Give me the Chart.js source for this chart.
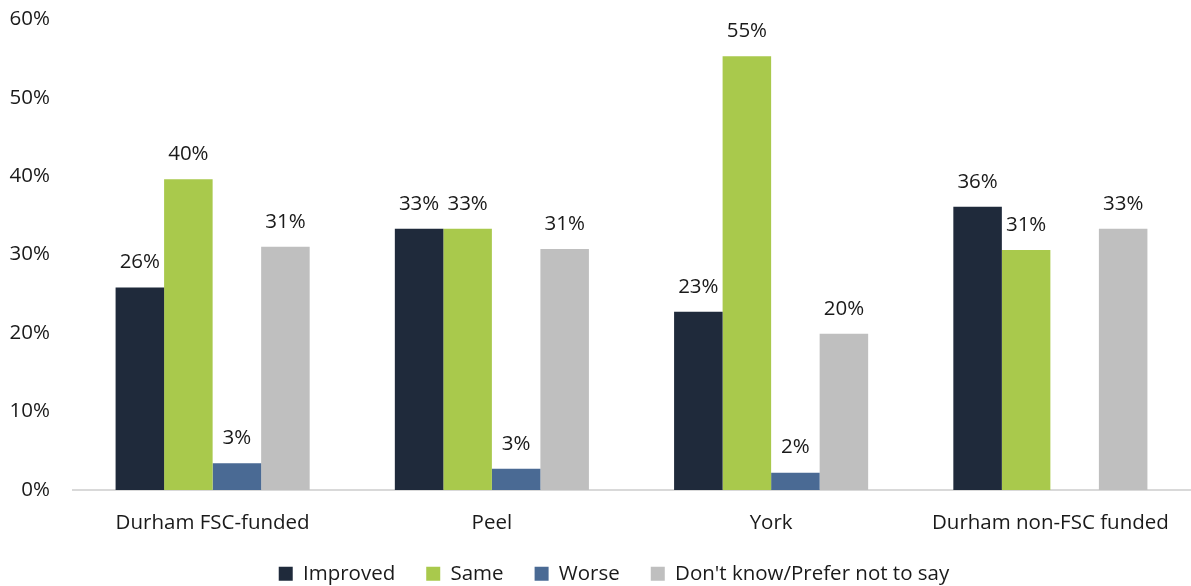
<!DOCTYPE html>
<html>
<head>
<meta charset="utf-8">
<script src="https://cdn.jsdelivr.net/npm/chart.js@4.4.1/dist/chart.umd.min.js"></script>
<style>
  html, body { margin: 0; padding: 0; background: #fff; overflow: hidden; }
  #frame { width: 1191px; height: 586px; position: relative; overflow: hidden; }
  #wrap { width: 1191px; height: 610px; position: absolute; left: 0; top: -16px; }
</style>
</head>
<body>
<div id="frame"><div id="wrap"><canvas id="chart"></canvas></div></div>
<script>
  // --- data ---
  const regions = ["Durham FSC-funded", "Peel", "York", "Durham non-FSC funded"];
  const improved = [25.8, 33.3, 22.7, 36.1];
  const same = [39.6, 33.3, 55.3, 30.6];
  const worse = [3.4, 2.7, 2.2, null];
  const dontKnow = [31.0, 30.7, 19.9, 33.3];
  const yTicks = [0, 10, 20, 30, 40, 50, 60];

  const FONT = "'Open Sans', sans-serif";
  const FSIZE = 20.5;
  const TEXT = "#1a1a1a";

  // value labels above each bar
  const barLabels = {
    id: "barLabels",
    afterDatasetsDraw(chart) {
      const ctx = chart.ctx;
      ctx.save();
      ctx.font = FSIZE + "px " + FONT;
      ctx.fillStyle = TEXT;
      ctx.textAlign = "center";
      ctx.textBaseline = "middle";
      chart.data.datasets.forEach(function (ds, i) {
        const meta = chart.getDatasetMeta(i);
        meta.data.forEach(function (bar, j) {
          const v = ds.data[j];
          if (v == null) return;
          ctx.fillText(Math.round(v) + "%", bar.x, bar.y - 25);
        });
      });
      ctx.restore();
    },
  };

  // legend row is centred a little right of the canvas middle
  const legendShift = {
    id: "legendShift",
    afterLayout(chart) {
      if (chart.legend) chart.legend.left += 38;
    },
  };

  new Chart(document.getElementById("chart"), {
    type: "bar",
    data: {
      labels: regions,
      datasets: [
        { label: "Improved", data: improved, backgroundColor: "#1f2a3b" },
        { label: "Same", data: same, backgroundColor: "#a9c94c" },
        { label: "Worse", data: worse, backgroundColor: "#4a6a94" },
        { label: "Don't know/Prefer not to say", data: dontKnow, backgroundColor: "#bfbfbf" },
      ],
    },
    options: {
      responsive: true,
      maintainAspectRatio: false,
      animation: false,
      layout: { padding: { top: 0, right: 1, left: 0, bottom: 0 } },
      datasets: { bar: { categoryPercentage: 0.695, barPercentage: 1.0 } },
      scales: {
        x: {
          // legend sits closer to the category labels than its item spacing would allow
          afterFit: function (scale) { scale.height = scale.height - 24; },
          grid: { display: false, drawTicks: false },
          border: { display: true, color: "#d9d9d9", width: 2 },
          ticks: { color: TEXT, font: { family: FONT, size: FSIZE }, padding: 21 },
        },
        y: {
          min: 0,
          max: 60,
          afterFit: function (scale) { scale.width = 73; },
          afterBuildTicks: function (scale) {
            scale.ticks = yTicks.map(function (v) { return { value: v }; });
          },
          grid: { display: false, drawTicks: false },
          border: { display: false },
          ticks: {
            color: TEXT,
            font: { family: FONT, size: FSIZE },
            padding: 23,
            callback: function (v) { return v + "%"; },
          },
        },
      },
      plugins: {
        legend: {
          position: "bottom",
          labels: {
            color: TEXT,
            font: { family: FONT, size: FSIZE },
            boxWidth: 14,
            boxHeight: 14,
            padding: 31,
          },
        },
        tooltip: { enabled: false },
      },
    },
    plugins: [barLabels, legendShift],
  });
</script>
</body>
</html>
